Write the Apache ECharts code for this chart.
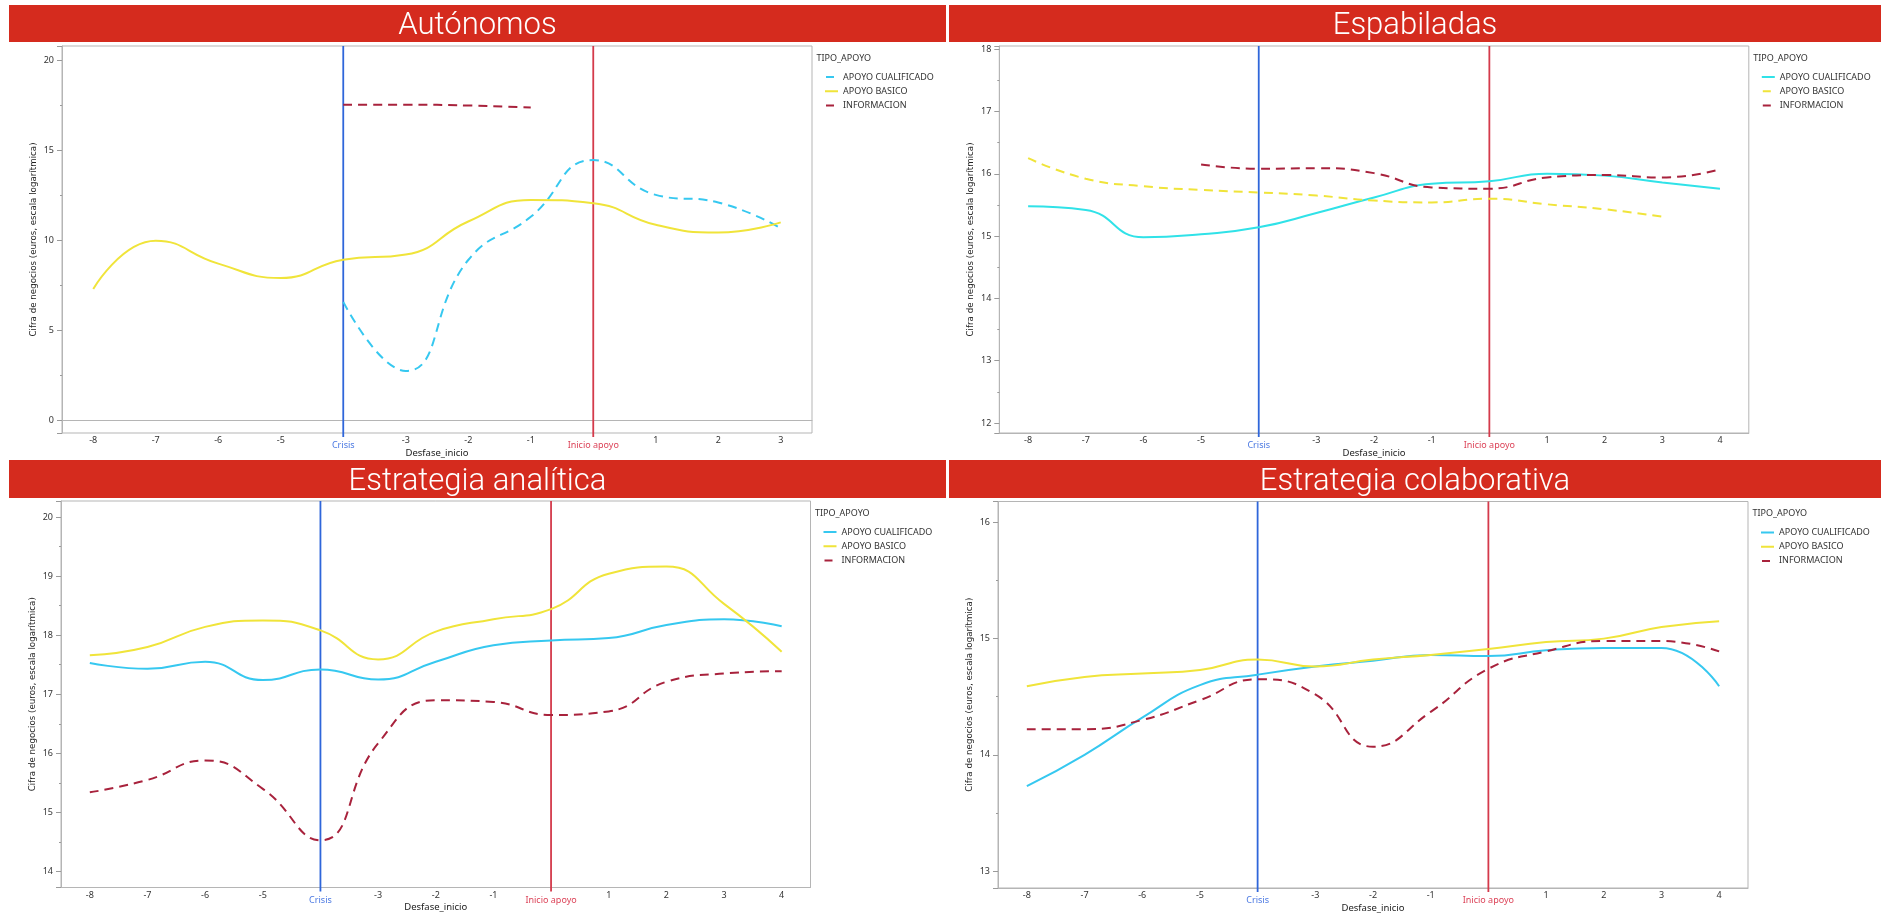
<!DOCTYPE html>
<html>
<head>
<meta charset="utf-8">
<script src="https://cdn.jsdelivr.net/npm/echarts@6/dist/echarts.min.js"></script>
<style>
html,body{margin:0;padding:0;background:#fff;width:1881px;height:915px;overflow:hidden}
.p{position:absolute}
</style>
</head>
<body>
<div id="p1" class="p" style="left:0;top:0;width:946px;height:459px"></div>
<div id="p2" class="p" style="left:946px;top:0;width:935px;height:459px"></div>
<div id="p3" class="p" style="left:0;top:459px;width:946px;height:456px"></div>
<div id="p4" class="p" style="left:946px;top:459px;width:935px;height:456px"></div>
<script>
// ---------- data ----------
const catsAutonomos = ['-8','-7','-6','-5','-4','-3','-2','-1','0','1','2','3'];
const catsOthers = ['-8','-7','-6','-5','-4','-3','-2','-1','0','1','2','3','4'];
const seriesNames = ['APOYO CUALIFICADO','APOYO BASICO','INFORMACION'];
const legendTitle = 'TIPO_APOYO';
const xAxisName = 'Desfase_inicio';
const yAxisName = 'Cifra de negocios (euros, escala logarítmica)';
const crisisCat = '-4';
const inicioCat = '0';
const crisisLabel = 'Crisis';
const inicioLabel = 'Inicio apoyo';
const panelTitles = ['Autónomos','Espabiladas','Estrategia analítica','Estrategia colaborativa'];

// Autónomos
const autCualificado = [null,null,null,null,6.57,2.73,8.9,11.3,14.46,12.52,12.1,10.67];
const autBasico      = [7.29,9.97,8.7,7.9,8.92,9.2,11.04,12.24,12.06,10.86,10.43,10.99];
const autInformacion = [null,null,null,null,17.54,17.54,17.49,17.38,null,null,null,null];

// Espabiladas
const espCualificado = [15.48,15.42,14.98,15.03,15.14,15.37,15.62,15.84,15.88,16.0,15.97,15.86,15.76];
const espBasico      = [16.25,15.92,15.8,15.74,15.7,15.65,15.57,15.54,15.6,15.51,15.43,15.31,null];
const espInformacion = [null,null,null,16.15,16.08,16.09,16.01,15.78,15.76,15.94,15.98,15.94,16.07];

// Estrategia analítica
const anaCualificado = [17.53,17.43,17.55,17.24,17.42,17.25,17.55,17.83,17.91,17.95,18.17,18.27,18.15];
const anaBasico      = [17.66,17.8,18.14,18.25,18.08,17.59,18.06,18.27,18.44,19.04,19.16,18.53,17.72];
const anaInformacion = [15.34,15.55,15.88,15.4,14.53,16.17,16.9,16.87,16.65,16.71,17.21,17.35,17.39];

// Estrategia colaborativa
const colCualificado = [13.73,14.0,14.32,14.6,14.69,14.76,14.81,14.86,14.85,14.9,14.92,14.92,14.59];
const colBasico      = [14.59,14.67,14.7,14.73,14.82,14.76,14.82,14.86,14.91,14.97,15.0,15.1,15.15];
const colInformacion = [14.22,14.22,14.3,14.47,14.65,14.52,14.07,14.37,14.74,14.89,14.98,14.98,14.89];

// y axis ranges per panel
const yRanges = [[-0.72,20.8],[11.84,18.05],[13.73,20.27],[12.854,16.18]];

// ---------- styling / layout ----------
const C_CUAL = '#36C8F0', C_CUAL2 = '#30E2E8', C_BAS = '#F0E43A', C_INF = '#A8223C';
const C_CRISIS = '#2F66DA', C_INICIO = '#D43A4B';
const DASH = [9,6];
const ICON_SOLID = 'path://M0,0L0,2L0,0Z M4,0h13v2h-13z';
const ICON_DASH  = 'path://M0,0L0,2L0,0Z M5,0h8v2h-8z M17,0L17,2L17,0Z';

const panels = [
  {id:'p1', cats:catsAutonomos, data:[autCualificado,autBasico,autInformacion], colors:[C_CUAL,C_BAS,C_INF],
   dashed:[true,false,true], y:yRanges[0], split:5,
   grid:{left:62,top:46,width:750,height:387}, bar:{x:9,y:5,w:937,h:37}, title:panelTitles[0]},
  {id:'p2', cats:catsOthers, data:[espCualificado,espBasico,espInformacion], colors:[C_CUAL2,C_BAS,C_INF],
   dashed:[false,true,true], y:yRanges[1], split:6,
   grid:{left:53.3,top:46,width:749.5,height:387}, bar:{x:3,y:5,w:932,h:37}, title:panelTitles[1]},
  {id:'p3', cats:catsOthers, data:[anaCualificado,anaBasico,anaInformacion], colors:[C_CUAL,C_BAS,C_INF],
   dashed:[false,false,true], y:yRanges[2], split:6,
   grid:{left:61,top:42,width:749.5,height:386.5}, bar:{x:9,y:1,w:937,h:38}, title:panelTitles[2]},
  {id:'p4', cats:catsOthers, data:[colCualificado,colBasico,colInformacion], colors:[C_CUAL,C_BAS,C_INF],
   dashed:[false,false,true], y:yRanges[3], split:3,
   grid:{left:52,top:42.5,width:750,height:386.5}, bar:{x:3,y:1,w:932,h:38}, title:panelTitles[3]}
];

const FONT = 'Noto Sans';

function buildOption(p) {
  const yMin = p.y[0], yMax = p.y[1];
  const gRight = p.grid.left + p.grid.width;
  const series = seriesNames.map((name, i) => ({
    type:'line', name, data:p.data[i], smooth:0.5, symbol:'none', connectNulls:false,
    z:3,
    lineStyle:{color:p.colors[i], width:2, type:p.dashed[i] ? DASH : 'solid'},
    itemStyle:{color:p.colors[i]}
  }));
  series.push({
    type:'custom', name:'marcas', silent:true, z:2, clip:false,
    data:[[crisisCat, yMin],[inicioCat, yMin]],
    encode:{x:0,y:1},
    renderItem:function(params, api){
      const idx = api.value(0);
      const t = api.coord([idx, yMax]);
      const b = api.coord([idx, yMin]);
      return {type:'line', shape:{x1:t[0],y1:t[1],x2:b[0],y2:b[1]+4},
        style:{stroke: params.dataIndex === 0 ? C_CRISIS : C_INICIO, lineWidth:1.8}};
    }
  });
  return {
    animation:false,
    backgroundColor:'#fff',
    graphic:[
      {type:'rect', left:p.bar.x, top:p.bar.y, shape:{width:p.bar.w, height:p.bar.h}, style:{fill:'#D52B1E'}, z:0},
      {type:'text', x:p.bar.x + p.bar.w/2, y:p.bar.y + p.bar.h/2 + 3, z:1,
       style:{text:p.title, fill:'#fff', font:'300 31px Roboto', align:'center', verticalAlign:'middle'}},
      {type:'text', x:gRight + 4.5, y:p.grid.top + 12, z:1,
       style:{text:legendTitle, fill:'#333', font:'9px "Noto Sans"', align:'left', verticalAlign:'middle'}}
    ],
    legend:{
      data:seriesNames.map((n, i) => ({name:n, icon: p.dashed[i] ? ICON_DASH : ICON_SOLID})),
      orient:'vertical', left:gRight + 4, top:p.grid.top + 20,
      itemWidth:17, itemHeight:2, itemGap:2.2,
      textStyle:{fontFamily:FONT, fontSize:9, color:'#333', lineHeight:12},
      selectedMode:false
    },
    grid:{left:p.grid.left, top:p.grid.top, width:p.grid.width, height:p.grid.height,
      show:true, borderColor:'#b5b5b5', borderWidth:1, containLabel:false, outerBoundsMode:'none'},
    xAxis:{
      type:'category', data:p.cats, boundaryGap:true,
      axisLine:{show:true, lineStyle:{color:'#b5b5b5'}},
      axisTick:{show:false},
      splitLine:{show:false},
      axisLabel:{fontFamily:FONT, fontSize:9, color:'#333', margin:3, interval:0,
        formatter:function(v){ return v === crisisCat ? '{c|' + crisisLabel + '}' : v === inicioCat ? '{i|' + inicioLabel + '}' : v; },
        rich:{c:{color:'#4A78E2', fontFamily:FONT, fontSize:9, padding:[5,0,0,0]},
              i:{color:'#DC4358', fontFamily:FONT, fontSize:9, padding:[5,0,0,0]}}},
      name:xAxisName, nameLocation:'middle', nameGap:15, nameMoveOverlap:false,
      nameTextStyle:{fontFamily:FONT, fontSize:9.5, color:'#222'}
    },
    yAxis:{
      type:'value', min:yMin, max:yMax, splitNumber:p.split, scale:true,
      splitLine:{show:false},
      axisLine:{show:true, lineStyle:{color:'#b5b5b5'}},
      axisTick:{show:true, length:5, lineStyle:{color:'#9a9a9a'}},
      minorTick:{show:true, splitNumber:2, length:2, lineStyle:{color:'#9a9a9a'}},
      axisLabel:{fontFamily:FONT, fontSize:9, color:'#333', margin:8, showMinLabel:false, showMaxLabel:false},
      name:yAxisName, nameLocation:'middle', nameGap:24, nameMoveOverlap:false,
      nameTextStyle:{fontFamily:'DejaVu Sans', fontSize:8.7, color:'#222'}
    },
    series
  };
}

panels.forEach(p => {
  const chart = echarts.init(document.getElementById(p.id), null, {renderer:'canvas'});
  chart.setOption(buildOption(p));
});
</script>
</body>
</html>
